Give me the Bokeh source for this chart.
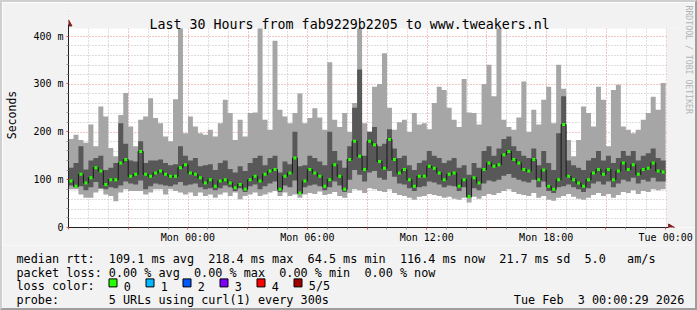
import math
from bokeh.plotting import figure
from bokeh.layouts import column
from bokeh.models import Range1d, FixedTicker, Label
from bokeh.embed import file_html
from bokeh.resources import INLINE

# ---------------- data (milliseconds), one value per 15-minute bin, Sun 18:00 -> Tue 00:00
smoke_max = [185, 194, 183, 177, 215, 170, 253, 232, 166, 149,
             235, 281, 211, 170, 225, 232, 270, 229, 218, 190,
             180, 268, 420, 197, 232, 211, 197, 194, 204, 190,
             218, 267, 239, 183, 225, 190, 239, 240, 420, 225,
             204, 390, 246, 232, 218, 239, 280, 218, 229, 249,
             230, 204, 345, 225, 210, 239, 200, 260, 420, 218,
             200, 294, 300, 364, 250, 204, 220, 225, 200, 239,
             215, 218, 205, 260, 294, 287, 250, 225, 210, 310,
             240, 239, 215, 300, 340, 274, 420, 225, 210, 204,
             230, 305, 200, 246, 215, 267, 294, 218, 340, 290,
             183, 149, 183, 253, 239, 211, 294, 267, 170, 287,
             298, 211, 204, 197, 204, 225, 239, 273, 246, 302]
smoke_hi = [125, 135, 170, 121, 140, 145, 150, 120, 125, 135,
            218, 175, 140, 138, 180, 135, 140, 140, 142, 135,
            130, 132, 170, 150, 140, 145, 128, 130, 132, 120,
            135, 140, 122, 115, 128, 118, 135, 145, 150, 130,
            145, 150, 115, 138, 132, 200, 128, 130, 150, 145,
            138, 130, 200, 160, 140, 125, 170, 250, 330, 150,
            200, 210, 170, 175, 205, 165, 145, 150, 130, 120,
            135, 140, 160, 150, 145, 135, 140, 145, 125, 130,
            110, 135, 125, 160, 170, 150, 165, 185, 190, 170,
            160, 150, 145, 165, 130, 160, 135, 120, 197, 274,
            140, 130, 125, 120, 140, 145, 160, 140, 150, 135,
            145, 160, 150, 160, 140, 150, 155, 165, 145, 140]
median = [97, 86, 111, 93, 104, 125, 118, 90, 100, 100,
          135, 142, 107, 111, 159, 111, 107, 114, 118, 111,
          107, 107, 125, 131, 114, 111, 104, 93, 100, 86,
          97, 100, 93, 83, 90, 80, 100, 107, 97, 111,
          118, 121, 80, 107, 114, 145, 72, 97, 121, 114,
          107, 86, 100, 131, 107, 80, 142, 180, 149, 121,
          180, 173, 138, 124, 184, 142, 114, 121, 100, 86,
          107, 107, 128, 124, 114, 100, 111, 114, 86, 100,
          65, 104, 93, 121, 135, 128, 131, 152, 159, 142,
          135, 121, 118, 142, 100, 120, 86, 80, 100, 215,
          107, 100, 93, 86, 100, 114, 121, 111, 121, 100,
          118, 135, 121, 131, 111, 121, 124, 135, 118, 116]
smoke_lo = [88, 84, 86, 78, 84, 95, 82, 80, 84, 82,
            88, 96, 92, 90, 98, 80, 86, 92, 90, 88,
            86, 90, 95, 88, 90, 92, 84, 80, 82, 78,
            82, 88, 84, 76, 82, 74, 86, 90, 80, 86,
            92, 96, 74, 88, 84, 98, 70, 84, 88, 90,
            86, 78, 84, 96, 88, 74, 100, 120, 110, 96,
            115, 118, 104, 100, 118, 106, 92, 90, 82, 76,
            84, 86, 96, 94, 90, 84, 88, 86, 76, 84,
            62, 82, 78, 92, 98, 96, 100, 108, 112, 104,
            100, 96, 94, 100, 84, 96, 76, 72, 84, 86,
            90, 84, 80, 74, 82, 92, 96, 90, 96, 84,
            92, 100, 96, 104, 92, 100, 96, 104, 96, 96]
smoke_min = [80, 80, 69, 62, 62, 73, 80, 69, 66, 55,
             73, 80, 76, 76, 76, 69, 73, 80, 80, 69,
             80, 76, 73, 69, 73, 66, 73, 66, 69, 62,
             69, 73, 66, 73, 59, 66, 69, 73, 66, 69,
             73, 76, 66, 73, 66, 69, 62, 69, 72, 70,
             75, 68, 70, 74, 66, 62, 72, 80, 78, 72,
             82, 80, 76, 74, 80, 72, 68, 66, 62, 58,
             64, 66, 70, 68, 66, 62, 64, 60, 58, 62,
             52, 64, 60, 66, 70, 68, 72, 76, 80, 74,
             70, 68, 66, 72, 62, 66, 58, 56, 62, 66,
             70, 64, 60, 58, 62, 68, 72, 66, 70, 62,
             68, 74, 72, 78, 70, 76, 74, 80, 78, 80]

TITLE = "Last 30 Hours from fab9229b2205 to www.tweakers.nl"
SIDE_TEXT = "RRDTOOL / TOBI OETIKER"
x_label_hours = [6, 12, 18, 24, 30]
x_labels = ["Mon 00:00", "Mon 06:00", "Mon 12:00", "Mon 18:00", "Tue 00:00"]
y_tick_values = [0, 100, 200, 300, 400]
y_tick_labels = ["0", "100 m", "200 m", "300 m", "400 m"]
loss_labels = ["0", "1", "2", "3", "4", "5/5"]
loss_colors = ["#26ff00", "#00b8ff", "#0059ff", "#7e00ff", "#ff0000", "#a10000"]
row_rtt = [(0, "median rtt:"), (13, "109.1 ms avg"), (27, "218.4 ms max"), (41, "64.5 ms min"),
           (54, "116.4 ms now"), (68, "21.7 ms sd"), (80, "5.0"), (86, "am/s")]
row_loss = [(0, "packet loss:"), (13, "0.00 % avg"), (25, "0.00 % max"), (37, "0.00 % min"),
            (49, "0.00 % now")]
row_probe = [(0, "probe:"), (13, "5 URLs using curl(1) every 300s")]
date_parts = [(0, "Tue Feb"), (9, "3 00:00:29 2026")]

# ---------------- geometry (page pixels)
MONO = "DejaVu Sans Mono"
BG = "#f2f2f2"
W, H, BORDER = 697, 310, 2
FL, FT, FB = 65, 28, 228          # canvas (white area) left / top / bottom
PX_PER_H = 20.0
PX_PER_MS = 0.4808
HOURS = 30.0
SPLIT = 245                       # page y where the legend panel starts
X_END = (W - BORDER - FL) / PX_PER_H
Y_END = (FB - BORDER) / PX_PER_MS
Y_CANVAS = (FB - FT) / PX_PER_MS
CW = 7.1


def px_x(px):
    return (px - FL) / PX_PER_H


def px_y(py):
    return (FB - py) / PX_PER_MS


def snap_y(v):
    # grid value moved to the centre of the pixel row it falls in (crisp dotted lines)
    return px_y(round(FB - v * PX_PER_MS) + 0.5)


def snap_x(h):
    return h + 0.5 / PX_PER_H


step_h = HOURS / len(median)
edges = [i * step_h for i in range(len(median))] + [HOURS]
centers = [(i + 0.5) * step_h for i in range(len(median))]


def ext(a):
    return list(a) + [a[-1]]


p = figure(width=W - 2 * BORDER, height=SPLIT - BORDER,
           x_range=Range1d(0, X_END), y_range=Range1d(0, Y_END),
           output_backend="svg", toolbar_location=None,
           min_border_left=FL - BORDER, min_border_right=0,
           min_border_top=0, min_border_bottom=SPLIT - FB,
           background_fill_color="white", border_fill_color=BG,
           outline_line_color=None)
p.frame_align = False

# grids
x_major = list(range(0, 31, 3))
x_minor = [h for h in range(31) if h % 3]
y_major = [100, 200, 300, 400]
y_minor = [v for v in range(20, 420, 20) if v % 100]
p.xgrid.ticker = FixedTicker(ticks=[snap_x(h) for h in x_major], minor_ticks=[snap_x(h) for h in x_minor])
p.ygrid.ticker = FixedTicker(ticks=[snap_y(v) for v in y_major], minor_ticks=[snap_y(v) for v in y_minor])
for g in (p.xgrid[0], p.ygrid[0]):
    g.grid_line_color = "#e58a8a"
    g.grid_line_dash = "1 2"
    g.grid_line_width = 1
    g.minor_grid_line_color = "#bdbdbd"
    g.minor_grid_line_dash = "1 2"
    g.minor_grid_line_width = 1

# axes
xa = p.xaxis[0]
xa.ticker = FixedTicker(ticks=x_major, minor_ticks=x_minor)
overrides = {h: "" for h in x_major}
for h, lab in zip(x_label_hours, x_labels):
    overrides[h] = lab
xa.major_label_overrides = overrides
xa.bounds = (0, HOURS + 0.15)
ya = p.yaxis[0]
ya.ticker = FixedTicker(ticks=y_tick_values, minor_ticks=y_minor)
ya.major_label_overrides = dict(zip(y_tick_values, y_tick_labels))
ya.bounds = (0, Y_CANVAS + 8)
ya.axis_label = "Seconds"
ya.axis_label_text_font = MONO
ya.axis_label_text_font_size = "11.5px"
ya.axis_label_text_font_style = "normal"
ya.axis_label_text_color = "black"
ya.axis_label_standoff = 11
for a in (xa, ya):
    a.axis_line_color = "#202020"
    a.major_label_text_font = MONO
    a.major_label_text_font_size = "10px"
    a.major_label_text_color = "black"
    a.major_tick_in = 0
    a.major_tick_out = 2
    a.minor_tick_in = 0
    a.minor_tick_out = 2
    a.major_tick_line_color = "#de5050"
    a.minor_tick_line_color = "#9a9a9a"
xa.major_label_standoff = 2
ya.major_label_standoff = 3

# smoke + median
p.varea_step(x=edges, y1=ext(smoke_min), y2=ext(smoke_max), step_mode="after", fill_color="#a6a6a6")
p.varea_step(x=edges, y1=ext(smoke_lo), y2=ext(smoke_hi), step_mode="after", fill_color="#585858")
p.step(x=edges, y=ext(median), mode="after", line_color="#1a1a1a", line_width=1)
p.rect(x=centers, y=median, width=3, height=3, width_units="screen", height_units="screen",
       fill_color=loss_colors[0], line_color=None)

# background strips above and right of the white canvas
p.quad(left=[0, HOURS + 1.0 / PX_PER_H], right=[X_END, X_END], bottom=[Y_CANVAS, 0], top=[Y_END, Y_CANVAS],
       fill_color=BG, line_color=None)

# axis arrows
p.scatter(x=[0], y=[px_y(23.5)], marker="triangle", size=7, fill_color="#801f1f", line_color="#801f1f")
p.scatter(x=[px_x(670)], y=[0], marker="triangle", angle=-math.pi / 2, size=7,
          fill_color="#801f1f", line_color="#801f1f")


def txt(fig, x, y, s, size, align="left", baseline="alphabetic", color="black", angle=0.0):
    fig.add_layout(Label(x=x, y=y, text=s, text_font=MONO, text_font_size=size,
                         text_align=align, text_baseline=baseline, text_color=color, angle=angle))


txt(p, px_x(347.5), px_y(24), TITLE, "13.3px", align="center")
txt(p, px_x(688), px_y(5), SIDE_TEXT, "8.2px", baseline="middle", color="#b4b4b4", angle=-math.pi / 2)

# ---------------- legend panel (page pixel coordinates)
q = figure(width=W - 2 * BORDER, height=H - BORDER - SPLIT,
           x_range=Range1d(BORDER, W - BORDER), y_range=Range1d(H - BORDER, SPLIT),
           x_axis_type=None, y_axis_type=None,
           output_backend="svg", toolbar_location=None,
           min_border=0, min_border_left=0, min_border_right=0, min_border_top=0, min_border_bottom=0,
           background_fill_color=BG, border_fill_color=BG, outline_line_color=None)
q.frame_align = False
q.grid.visible = False

LX = 16
for row, base in ((row_rtt, 258.3), (row_loss, 272.1), (row_probe, 299.7)):
    for col, s in row:
        txt(q, LX + col * CW, base, s, "11.8px")
txt(q, LX, 285.9, "loss color:", "11.8px")
box_x = [112.5 + 37 * k for k in range(len(loss_labels))]
q.rect(x=box_x, y=[282.4] * len(box_x), width=8, height=8, fill_color=loss_colors,
       line_color="black", line_width=1)
for bx, lab in zip(box_x, loss_labels):
    txt(q, bx + 10.8, 285.9, lab, "11.8px")
for col, s in date_parts:
    txt(q, 513.3 + col * CW, 299.7, s, "11.8px")

layout = column(p, q, spacing=0)
layout.styles = {"box-sizing": "content-box", "border-style": "solid", "border-width": "2px",
                 "border-color": "#cfcfcf #9e9e9e #9e9e9e #cfcfcf", "gap": "0px"}

open("out.html", "w").write(file_html(layout, INLINE))
